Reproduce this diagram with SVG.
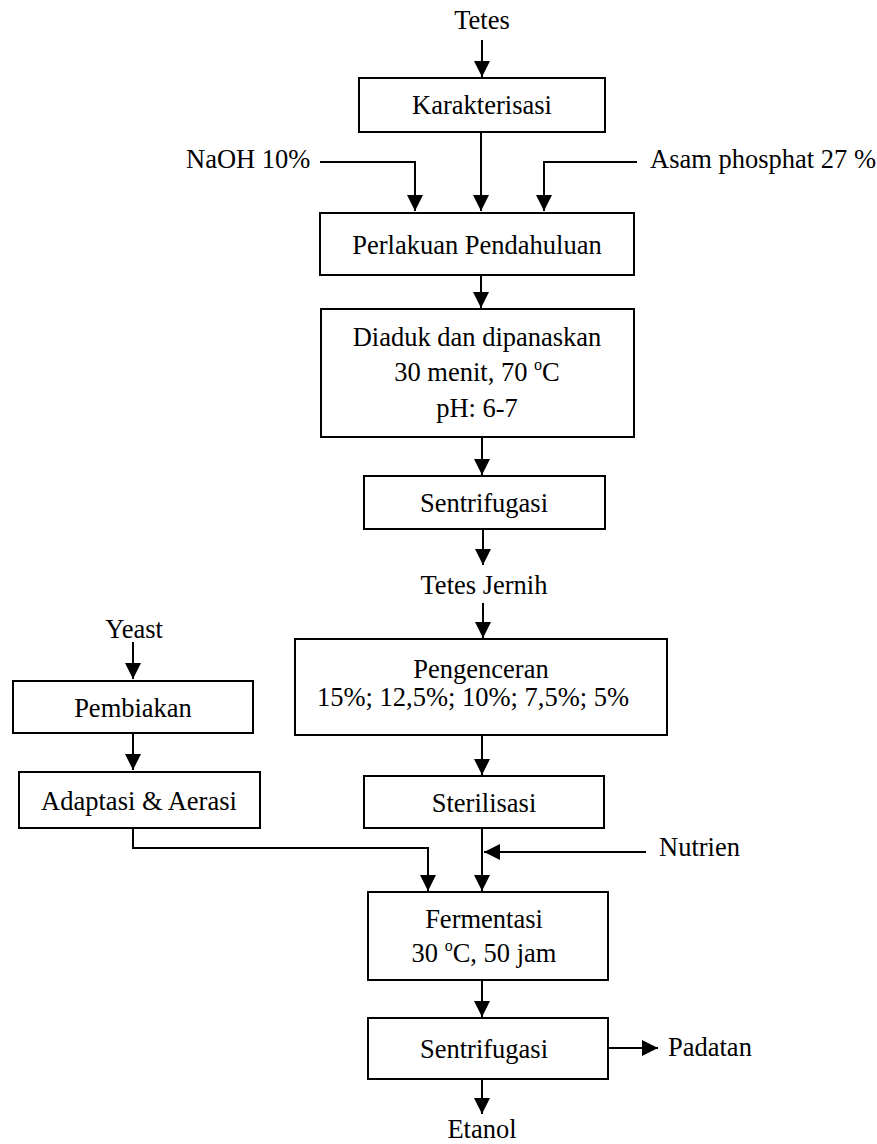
<svg xmlns="http://www.w3.org/2000/svg" width="877" height="1144" viewBox="0 0 877 1144">
<style>
.box{fill:#fff;stroke:#000;stroke-width:2}
.t{font-family:"Liberation Serif","Times New Roman",serif;font-size:26.5px;fill:#000}
.c{text-anchor:middle}
.ln{fill:none;stroke:#000;stroke-width:2}
</style>
<defs>
<marker id="ah" markerUnits="userSpaceOnUse" markerWidth="16" markerHeight="16" refX="16" refY="8" orient="auto" viewBox="0 0 16 16">
<path d="M0,0 L16,8 L0,16 Z" fill="#000"/>
</marker>
</defs>
<rect width="877" height="1144" fill="#fff"/>
<g id="connectors">
<path class="ln" d="M482,40 V77" marker-end="url(#ah)"/>
<path class="ln" d="M481,132 V211" marker-end="url(#ah)"/>
<path class="ln" d="M320,162 H415 V211" marker-end="url(#ah)"/>
<path class="ln" d="M637,162 H544 V211" marker-end="url(#ah)"/>
<path class="ln" d="M481,275 V308" marker-end="url(#ah)"/>
<path class="ln" d="M482,437 V475" marker-end="url(#ah)"/>
<path class="ln" d="M483,529 V565" marker-end="url(#ah)"/>
<path class="ln" d="M483,603 V638" marker-end="url(#ah)"/>
<path class="ln" d="M133,642 V679" marker-end="url(#ah)"/>
<path class="ln" d="M133,733 V770" marker-end="url(#ah)"/>
<path class="ln" d="M482,735 V775" marker-end="url(#ah)"/>
<path class="ln" d="M482,828 V891" marker-end="url(#ah)"/>
<path class="ln" d="M646,852 H484" marker-end="url(#ah)"/>
<path class="ln" d="M133,828 V848 H428 V891" marker-end="url(#ah)"/>
<path class="ln" d="M482,980 V1017" marker-end="url(#ah)"/>
<path class="ln" d="M608,1048 H658" marker-end="url(#ah)"/>
<path class="ln" d="M482,1079 V1114" marker-end="url(#ah)"/>
</g>
<g id="tetes"><text class="t c" x="482" y="29">Tetes</text></g>
<g id="karakterisasi">
<rect class="box" x="359" y="78" width="246" height="54"/>
<text class="t c" x="482" y="114">Karakterisasi</text>
</g>
<g id="naoh"><text class="t" x="186" y="168">NaOH 10%</text></g>
<g id="asam"><text class="t" x="650" y="168">Asam phosphat 27 %</text></g>
<g id="perlakuan">
<rect class="box" x="320" y="213" width="314" height="62"/>
<text class="t c" x="477" y="254">Perlakuan Pendahuluan</text>
</g>
<g id="diaduk">
<rect class="box" x="321" y="309" width="313" height="128"/>
<text class="t c" x="477" y="346">Diaduk dan dipanaskan</text>
<text class="t c" x="477" y="381">30 menit, 70 <tspan font-size="16" dy="-11">o</tspan><tspan dy="11">C</tspan></text>
<text class="t c" x="477" y="417">pH: 6-7</text>
</g>
<g id="sentrifugasi1">
<rect class="box" x="364" y="476" width="241" height="53"/>
<text class="t c" x="484" y="512">Sentrifugasi</text>
</g>
<g id="tetes-jernih"><text class="t c" x="484" y="594">Tetes Jernih</text></g>
<g id="pengenceran">
<rect class="box" x="295" y="639" width="372" height="96"/>
<text class="t c" x="481" y="678">Pengenceran</text>
<text class="t" x="317" y="706">15%; 12,5%; 10%; 7,5%; 5%</text>
</g>
<g id="sterilisasi">
<rect class="box" x="364" y="776" width="240" height="52"/>
<text class="t c" x="484" y="812">Sterilisasi</text>
</g>
<g id="nutrien"><text class="t" x="659" y="856">Nutrien</text></g>
<g id="yeast"><text class="t c" x="134" y="638">Yeast</text></g>
<g id="pembiakan">
<rect class="box" x="13" y="681" width="240" height="52"/>
<text class="t c" x="133" y="717">Pembiakan</text>
</g>
<g id="adaptasi">
<rect class="box" x="19" y="772" width="241" height="56"/>
<text class="t c" x="139" y="810">Adaptasi &amp; Aerasi</text>
</g>
<g id="fermentasi">
<rect class="box" x="368" y="892" width="240" height="88"/>
<text class="t c" x="484" y="928">Fermentasi</text>
<text class="t c" x="484" y="962">30 <tspan font-size="16" dy="-11">o</tspan><tspan dy="11">C, 50 jam</tspan></text>
</g>
<g id="sentrifugasi2">
<rect class="box" x="368" y="1018" width="240" height="61"/>
<text class="t c" x="484" y="1058">Sentrifugasi</text>
</g>
<g id="padatan"><text class="t" x="668" y="1056">Padatan</text></g>
<g id="etanol"><text class="t c" x="482" y="1138">Etanol</text></g>
</svg>
